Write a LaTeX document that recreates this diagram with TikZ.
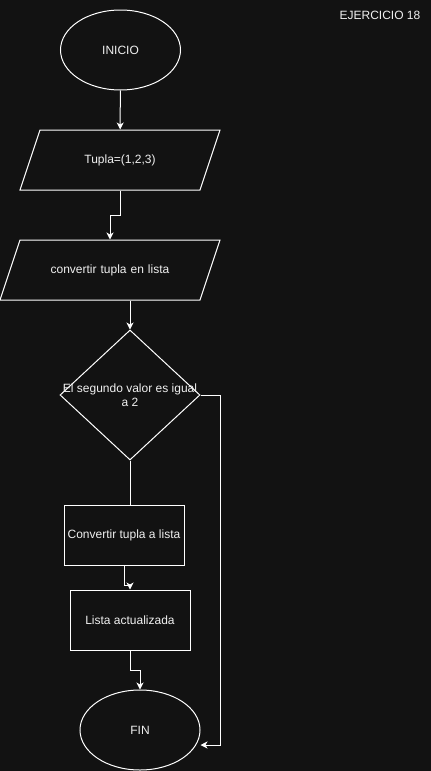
\documentclass[tikz,border=0pt]{standalone}
\usepackage{fontspec}
\setmainfont{Liberation Sans}
\usepackage{tikz}
\usetikzlibrary{shapes.geometric}
\usetikzlibrary{arrows.meta}
\definecolor{fondo}{HTML}{121212}
\definecolor{texto}{HTML}{F0F0F0}
\tikzstyle{terminal} = [ellipse, minimum width=120pt, minimum height=80pt, inner sep=0pt, draw=white, text=texto]
\tikzstyle{datos} = [trapezium, trapezium left angle=71.57, trapezium right angle=108.43, text width=160pt, align=center, text height=8.6pt, text depth=2.4pt, inner xsep=0pt, inner ysep=24.5pt, draw=white, text=texto]
\tikzstyle{decision} = [diamond, minimum width=140pt, minimum height=130pt, inner sep=0pt, draw=white]
\tikzstyle{proceso} = [rectangle, minimum width=120pt, minimum height=60pt, inner sep=0pt, draw=white, text=texto]
\tikzstyle{arrow} = [->,>={Stealth[length=7pt,width=7pt,inset=2pt]}]

\begin{document}
\begin{tikzpicture}[x=1pt, y=-1pt, line width=1pt, font=\fontsize{12}{14.4}\selectfont, color=white]
						\fill[fondo] (0,0) rectangle (431,771);
						\useasboundingbox (0,0) rectangle (431,771);
						\node[text=texto] (tit) at (380,15) {EJERCICIO 18};
						\node (ini) at (120.5,50) [terminal] {INICIO};
						\node (tup) at (120,160) [datos] {Tupla=(1,2,3)};
						\node (conv) at (110,270) [datos, text width=180pt] {convertir tupla en lista};
						\node (dec) at (130,395) [decision] {};
						\node[text=texto, align=center] (dect) at (dec.center) {El segundo valor es igual\\a 2};
						\node (c1) at (124,535) [proceso] {Convertir tupla a lista};
						\node (c2) at (130,620) [proceso] {Lista actualizada};
						\node (fin) at (140,730) [terminal] {FIN};
						\draw[arrow] (ini) -- (tup);
						\draw[arrow] (tup.south -| tup.center) -- ++(0,25) -| (conv.north -| conv.center);
						\draw[arrow] (conv.south -| dec.north) -- (dec.north);
						\draw (dec.south) -- (dec.south |- c1.north);
						\draw[arrow] (c1.south) -- ++(0,20) -| (c2.north);
						\draw[arrow] (c2.south) -- ++(0,20) -| (fin.north);
						\draw[arrow] (dec.east) -- ++(20,0) |- ([yshift=-15pt]fin.east);
					\end{tikzpicture}
\end{document}
